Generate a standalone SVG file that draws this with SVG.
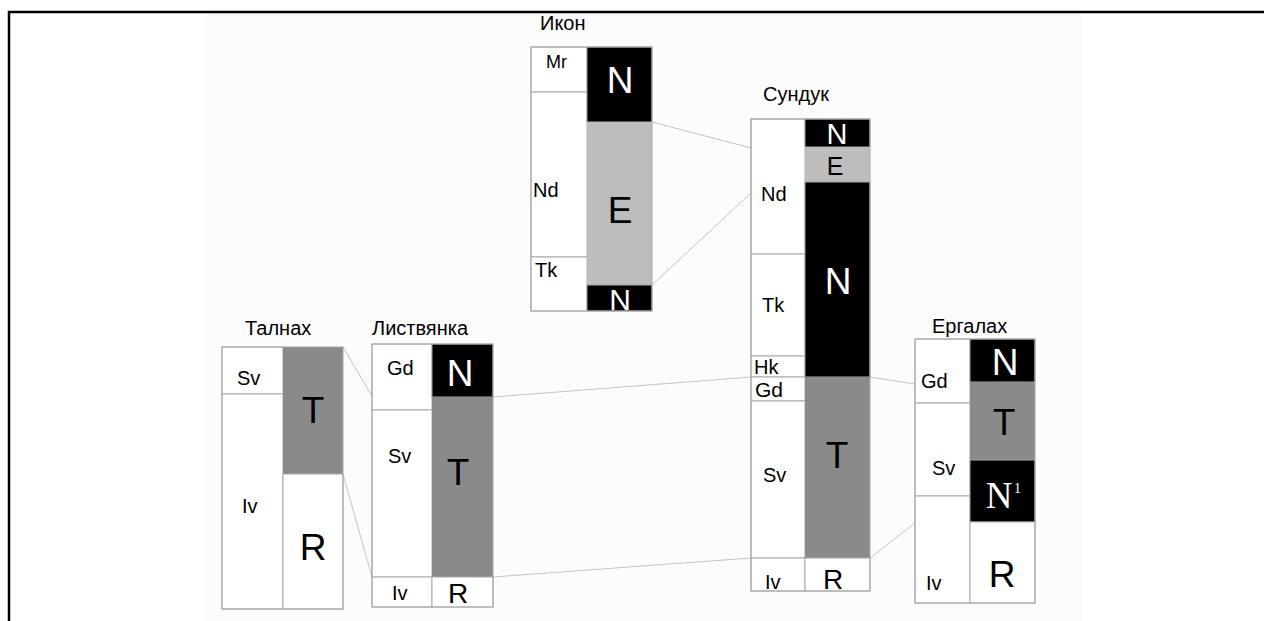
<svg xmlns="http://www.w3.org/2000/svg" width="1264" height="621" viewBox="0 0 1264 621">
<style>
.cell{fill:#ffffff;stroke:#a8a8a8;stroke-width:1}
.blk{fill:#000000;stroke:#a8a8a8;stroke-width:1}
.lg{fill:#bdbdbd;stroke:none}
.dg{fill:#8a8a8a;stroke:none}
.t{font-family:"Liberation Sans",Arial,sans-serif;fill:#000}
.lbl{font-size:20px}
.ttl{font-size:20px}
.big{font-size:37px;text-anchor:middle}
.w{fill:#ffffff}
.con line{stroke:#c4c4c4;stroke-width:1}
</style>
<rect x="0" y="0" width="1264" height="621" fill="#ffffff"/>
<rect x="205" y="13" width="877" height="608" fill="#fcfcfc"/>
<path d="M9,621 V12 H1264" fill="none" stroke="#000" stroke-width="2.5"/>

<g id="connectors" class="con">
<line x1="652" y1="122" x2="751" y2="148"/>
<line x1="652" y1="285" x2="751" y2="193"/>
<line x1="343" y1="347" x2="372" y2="396"/>
<line x1="343" y1="474" x2="372" y2="577"/>
<line x1="493" y1="397" x2="751" y2="377"/>
<line x1="493" y1="577" x2="751" y2="558"/>
<line x1="870" y1="377" x2="915" y2="384"/>
<line x1="870" y1="558" x2="915" y2="523"/>
</g>

<g id="ikon">
<text class="t ttl" x="540" y="30">Икон</text>
<rect class="cell" x="531" y="47" width="56" height="45"/>
<rect class="cell" x="531" y="92" width="56" height="165"/>
<rect class="cell" x="531" y="257" width="56" height="54"/>
<rect class="blk" x="587" y="47" width="65" height="75"/>
<rect class="lg" x="587" y="122" width="65" height="163"/>
<rect class="blk" x="587" y="285" width="65" height="26"/>
<rect x="531" y="47" width="121" height="264" fill="none" stroke="#a8a8a8"/>
<text class="t lbl" x="546" y="68" style="font-size:18px">Mr</text>
<text class="t lbl" x="533" y="197">Nd</text>
<text class="t lbl" x="535" y="277">Tk</text>
<text class="t big w" x="620" y="93">N</text>
<text class="t big" x="620" y="223">E</text>
<text class="t big w" x="620" y="310" style="font-size:30px">N</text>
</g>

<g id="sunduk">
<text class="t ttl" x="763" y="101">Сундук</text>
<rect class="cell" x="751" y="119" width="54" height="135"/>
<rect class="cell" x="751" y="254" width="54" height="102"/>
<rect class="cell" x="751" y="356" width="54" height="21"/>
<rect class="cell" x="751" y="377" width="54" height="24"/>
<rect class="cell" x="751" y="401" width="54" height="157"/>
<rect class="cell" x="751" y="558" width="54" height="33"/>
<rect class="blk" x="805" y="119" width="65" height="28"/>
<rect class="lg" x="805" y="147" width="65" height="35"/>
<rect class="blk" x="805" y="182" width="65" height="195"/>
<rect class="dg" x="805" y="377" width="65" height="181"/>
<rect class="cell" x="805" y="558" width="65" height="33"/>
<rect x="751" y="119" width="119" height="472" fill="none" stroke="#a8a8a8"/>
<text class="t lbl" x="761" y="201">Nd</text>
<text class="t lbl" x="762" y="312">Tk</text>
<text class="t lbl" x="754" y="374">Hk</text>
<text class="t lbl" x="755" y="397" style="font-size:21px">Gd</text>
<text class="t lbl" x="763" y="482">Sv</text>
<text class="t lbl" x="765" y="589">Iv</text>
<text class="t big w" x="837" y="144" style="font-size:29px">N</text>
<text class="t big" x="835" y="175" style="font-size:25px">E</text>
<text class="t big w" x="838" y="294">N</text>
<text class="t big" x="837" y="468">T</text>
<text class="t big" x="833" y="589" style="font-size:28px">R</text>
</g>

<g id="talnakh">
<text class="t ttl" x="245" y="335">Талнах</text>
<rect class="cell" x="222" y="347" width="61" height="47"/>
<rect class="cell" x="222" y="394" width="61" height="215"/>
<rect class="dg" x="283" y="347" width="60" height="127"/>
<rect class="cell" x="283" y="474" width="60" height="135"/>
<rect x="222" y="347" width="121" height="262" fill="none" stroke="#a8a8a8"/>
<text class="t lbl" x="237" y="385">Sv</text>
<text class="t lbl" x="242" y="513">Iv</text>
<text class="t big" x="313" y="423">T</text>
<text class="t big" x="313" y="560">R</text>
</g>

<g id="listvyanka">
<text class="t ttl" x="372" y="335">Листвянка</text>
<rect class="cell" x="372" y="344" width="60" height="66"/>
<rect class="cell" x="372" y="410" width="60" height="167"/>
<rect class="cell" x="372" y="577" width="60" height="30"/>
<rect class="blk" x="432" y="344" width="61" height="53"/>
<rect class="dg" x="432" y="397" width="61" height="180"/>
<rect class="cell" x="432" y="577" width="61" height="30"/>
<rect x="372" y="344" width="121" height="263" fill="none" stroke="#a8a8a8"/>
<text class="t lbl" x="387" y="375">Gd</text>
<text class="t lbl" x="388" y="463">Sv</text>
<text class="t lbl" x="392" y="600">Iv</text>
<text class="t big w" x="460" y="386">N</text>
<text class="t big" x="458" y="485">T</text>
<text class="t big" x="458" y="603" style="font-size:28px">R</text>
</g>

<g id="ergalakh">
<text class="t ttl" x="932" y="333">Ергалах</text>
<rect class="cell" x="915" y="339" width="55" height="64"/>
<rect class="cell" x="915" y="403" width="55" height="93"/>
<rect class="cell" x="915" y="496" width="55" height="107"/>
<rect class="blk" x="970" y="339" width="65" height="43"/>
<rect class="dg" x="970" y="382" width="65" height="78"/>
<rect class="blk" x="970" y="460" width="65" height="62"/>
<rect class="cell" x="970" y="522" width="65" height="81"/>
<rect x="915" y="339" width="120" height="264" fill="none" stroke="#a8a8a8"/>
<text class="t lbl" x="921" y="388">Gd</text>
<text class="t lbl" x="932" y="475">Sv</text>
<text class="t lbl" x="926" y="590">Iv</text>
<text class="t big w" x="1005" y="375">N</text>
<text class="t big" x="1004" y="435">T</text>
<text x="999" y="508" style="font-family:'Liberation Serif','Times New Roman',serif;font-size:37px;fill:#fff;text-anchor:middle">N</text>
<text x="1014" y="493" style="font-family:'Liberation Serif','Times New Roman',serif;font-size:14px;fill:#fff">1</text>
<text class="t big" x="1002" y="587">R</text>
</g>
</svg>
